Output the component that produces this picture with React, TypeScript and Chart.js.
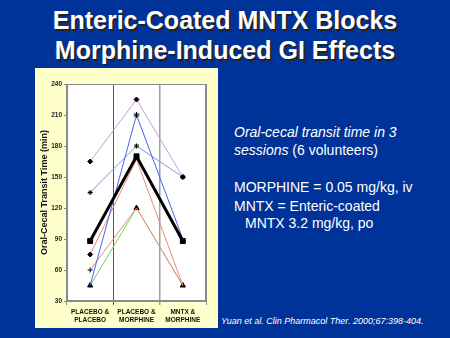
import React, { useEffect, useRef } from "react";
import { Chart, registerables } from "chart.js";

Chart.register(...registerables);

const categories = [
  ["PLACEBO &", "PLACEBO"],
  ["PLACEBO &", "MORPHINE"],
  ["MNTX &", "MORPHINE"],
];
const yTicks = [30, 60, 90, 120, 150, 180, 210, 240];
const subjectA = [165, 225, 150];
const subjectB = [45, 210, 90];
const subjectC = [135, 180, 150];
const subjectD = [75, 167, 45];
const subjectE = [60, 120, 45];
const subjectF = [45, 120, 45];
const meanValues = [88, 170, 88];

const FONT = "'Liberation Sans', Arial, sans-serif";

const plotBg = {
  id: "plotBg",
  beforeDraw(chart: any) {
    const { ctx, chartArea } = chart;
    ctx.save();
    ctx.fillStyle = "#ffffff";
    ctx.fillRect(chartArea.left, chartArea.top, chartArea.right - chartArea.left, chartArea.bottom - chartArea.top);
    ctx.restore();
  },
  beforeDatasetsDraw(chart: any) {
    const { ctx, chartArea } = chart;
    ctx.save();
    ctx.strokeStyle = "#8a8a8a";
    ctx.lineWidth = 1;
    ctx.strokeRect(chartArea.left + 0.5, chartArea.top + 0.5, chartArea.right - chartArea.left - 1, chartArea.bottom - chartArea.top - 1);
    ctx.restore();
  },
};

function ChartPanel() {
  const ref = useRef<HTMLCanvasElement>(null);
  useEffect(() => {
    if (!ref.current) return;
    const mk = (data: number[], color: string, style: any, radius: any, width = 1) => ({
      data,
      borderColor: color,
      borderWidth: width,
      pointStyle: style,
      pointRadius: radius,
      pointBackgroundColor: "#000",
      pointBorderColor: "#000",
      pointBorderWidth: 1,
      tension: 0,
    });
    const chart = new Chart(ref.current, {
      type: "line",
      data: {
        labels: categories as any,
        datasets: [
          mk(meanValues, "#000000", "rect", 3.5, 3),
          mk(subjectA, "#c79be0", "rectRot", 2.5),
          mk(subjectB, "#4a62f0", ["triangle", "star", "rect"], [0, 3, 0]),
          mk(subjectC, "#7a9cd0", "star", 2.5),
          mk(subjectD, "#f08a78", ["rectRot", "rect", "triangle"], [2.5, 0, 0]),
          mk(subjectE, "#f08a78", ["cross", "triangle", "triangle"], [2.5, 0, 0]),
          mk(subjectF, "#66dd55", "triangle", 3),
        ],
      },
      options: {
        animation: false,
        responsive: false,
        maintainAspectRatio: false,
        layout: { padding: { top: 16, right: 12, left: 4, bottom: 0 } },
        plugins: { legend: { display: false }, tooltip: { enabled: false } },
        scales: {
          x: {
            type: "category",
            offset: true,
            grid: {
              offset: true,
              drawOnChartArea: true,
              drawTicks: true,
              tickLength: 4,
              color: (c: any) => (c.index === 1 ? "#555555" : c.index === 2 ? "#a0a0a0" : "#8a8a8a"),
              lineWidth: (c: any) => (c.index === 2 ? 1.5 : 1),
            },
            border: { color: "#8a8a8a" },
            ticks: {
              font: { family: FONT, size: 6.5, weight: "bold", lineHeight: 1.25 },
              color: "#111",
              maxRotation: 0,
              autoSkip: false,
              padding: 3,
            },
            afterFit: (s: any) => {
              s.height = 27;
            },
          },
          y: {
            min: 30,
            max: 240,
            afterBuildTicks: (s: any) => {
              s.ticks = yTicks.map((v) => ({ value: v }));
            },
            ticks: {
              font: { family: FONT, size: 6.5, weight: "bold" },
              color: "#222",
              padding: 2,
            },
            grid: { drawOnChartArea: false, drawTicks: true, tickLength: 3, color: "#8a8a8a" },
            border: { color: "#8a8a8a" },
            title: {
              display: true,
              text: "Oral-Cecal Transit Time (min)",
              font: { family: FONT, size: 9, weight: "bold" },
              color: "#111",
              padding: 0,
            },
            afterFit: (s: any) => {
              s.width = 28;
            },
          },
        },
      },
      plugins: [plotBg],
    } as any);
    return () => chart.destroy();
  }, []);
  return (
    <canvas
      ref={ref}
      width={183}
      height={260}
      style={{ position: "absolute", left: 35, top: 68, width: 183, height: 260, background: "#ffffcc", display: "block" }}
    />
  );
}

export default function App() {
  const titleStyle: React.CSSProperties = {
    position: "absolute",
    left: 0,
    width: 450,
    textAlign: "center",
    fontFamily: FONT,
    fontWeight: "bold",
    fontSize: 25,
    lineHeight: "30px",
    color: "#ffffff",
    textShadow: "2px 2px 0 #222",
    whiteSpace: "nowrap",
  };
  const txt: React.CSSProperties = {
    position: "absolute",
    fontFamily: FONT,
    fontSize: 14,
    lineHeight: "18px",
    color: "#ffffff",
    whiteSpace: "nowrap",
  };
  return (
    <div style={{ position: "fixed", left: 0, top: 0, width: 450, height: 338, background: "#003399", overflow: "hidden" }}>
      <div style={{ ...titleStyle, top: 5 }}>Enteric-Coated MNTX Blocks</div>
      <div style={{ ...titleStyle, top: 35 }}>Morphine-Induced GI Effects</div>
      <ChartPanel />
      <div style={{ ...txt, left: 234, top: 123, fontStyle: "italic" }}>Oral-cecal transit time in 3</div>
      <div style={{ ...txt, left: 234, top: 141 }}>
        <i>sessions</i> (6 volunteers)
      </div>
      <div style={{ ...txt, left: 234, top: 178 }}>MORPHINE = 0.05 mg/kg, iv</div>
      <div style={{ ...txt, left: 234, top: 197 }}>MNTX = Enteric-coated</div>
      <div style={{ ...txt, left: 245, top: 214 }}>MNTX 3.2 mg/kg, po</div>
      <div style={{ ...txt, left: 221, top: 315, fontSize: 9, lineHeight: "12px", fontStyle: "italic" }}>
        Yuan et al. Clin Pharmacol Ther. 2000;67:398-404.
      </div>
    </div>
  );
}
